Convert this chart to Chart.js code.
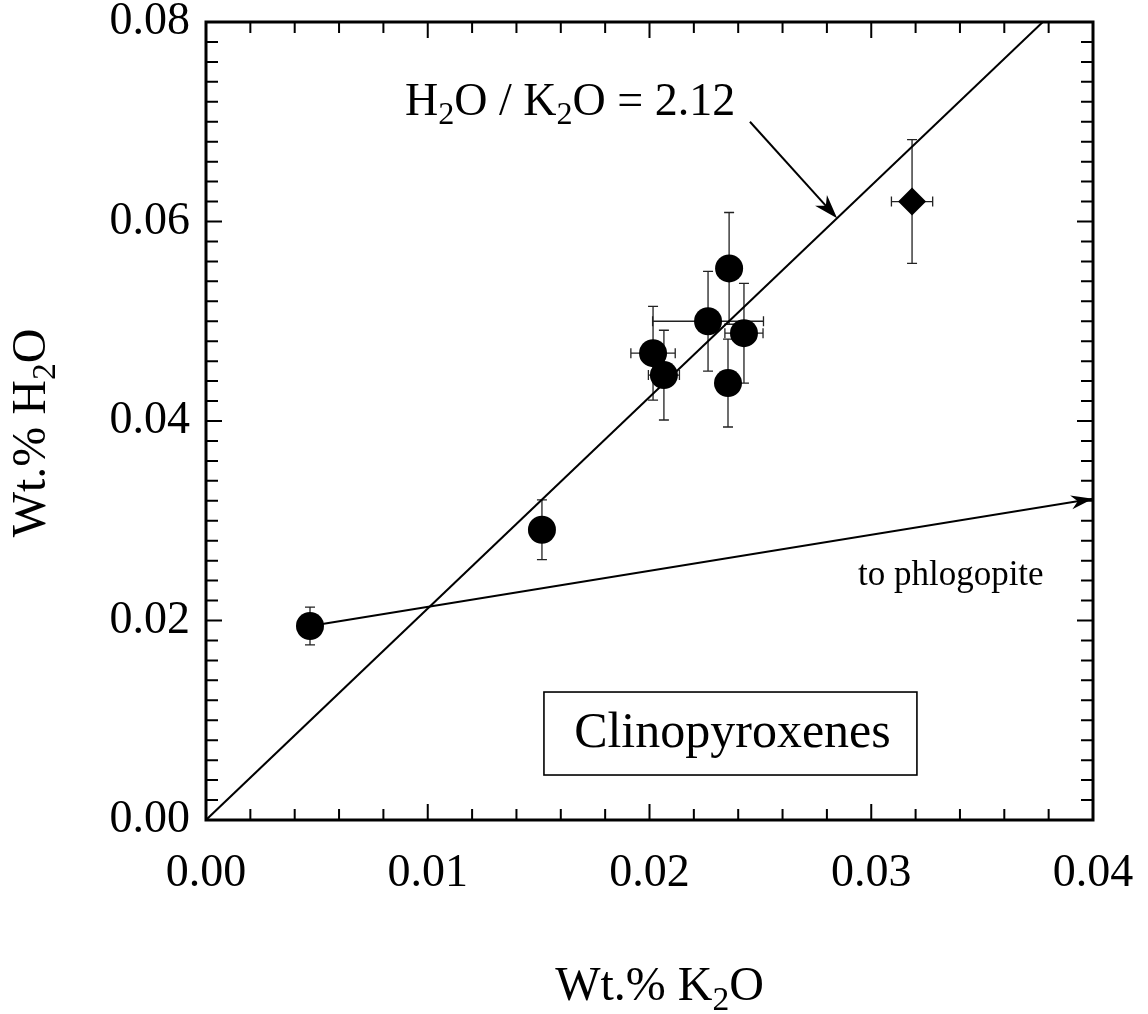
<!DOCTYPE html>
<html>
<head>
<meta charset="utf-8">
<script src="https://cdn.jsdelivr.net/npm/chart.js@4/dist/chart.umd.min.js"></script>
<style>
  body { margin: 0; background: #fff; }
  canvas { display: block; }
</style>
</head>
<body>
<canvas id="cpxChart" width="1148" height="1014"></canvas>
<script>
// CLINOPYROXENE ANALYSES (wt.%)
var cpxK2O    = [0.00469, 0.01515, 0.02016, 0.02065, 0.02264, 0.02359, 0.02426, 0.02354];
var cpxH2O    = [0.01945, 0.0291, 0.0468, 0.0446, 0.0500, 0.0553, 0.0488, 0.0438];
var cpxK2OErr = [0, 0, 0.0010, 0.0007, 0.0025, 0, 0.00086, 0];
var cpxH2OErr = [0.0019, 0.0030, 0.0047, 0.0045, 0.0050, 0.0056, 0.0050, 0.0044];

// SINGLE DIAMOND SAMPLE
var diaK2O    = [0.03184];
var diaH2O    = [0.0620];
var diaK2OErr = [0.00093];
var diaH2OErr = [0.0062];

// REFERENCE LINE AND PHLOGOPITE TREND
var h2oK2ORatio   = 2.12;
var phlogTrendEnd = [0.04, 0.0322];

// AXES
var xTicks = [0.00, 0.01, 0.02, 0.03, 0.04];
var yTicks = [0.00, 0.02, 0.04, 0.06, 0.08];
var xMinorStep = 0.002;
var yMinorStep = 0.002;

var serif = '"Liberation Serif", "Times New Roman", serif';

function toPoints(xs, ys) {
    return xs.map(function(x, i) { return { x: x, y: ys[i] }; });
}

// draw text runs where some pieces are subscripts
function drawRich(ctx, parts, x, y, size, align) {
    var subSize = size * 0.7;
    var total = 0;
    parts.forEach(function(p) {
        ctx.font = (p[1] ? subSize : size) + 'px ' + serif;
        total += ctx.measureText(p[0]).width;
    });
    var cx = align === 'center' ? x - total / 2 : x;
    ctx.textAlign = 'left';
    ctx.textBaseline = 'alphabetic';
    parts.forEach(function(p) {
        ctx.font = (p[1] ? subSize : size) + 'px ' + serif;
        ctx.fillText(p[0], cx, p[1] ? y + size * 0.2 : y);
        cx += ctx.measureText(p[0]).width;
    });
}

function arrowHead(ctx, x0, y0, x1, y1, len, half) {
    var a = Math.atan2(y1 - y0, x1 - x0);
    var c = Math.cos(a), s = Math.sin(a);
    ctx.beginPath();
    ctx.moveTo(x1, y1);
    ctx.lineTo(x1 - len * c - half * s, y1 - len * s + half * c);
    ctx.lineTo(x1 - len * 0.7 * c, y1 - len * 0.7 * s);
    ctx.lineTo(x1 - len * c + half * s, y1 - len * s - half * c);
    ctx.closePath();
    ctx.fill();
}

// ERROR BARS
var errorBars = {
    id: 'errorBars',
    beforeDatasetsDraw: function(chart) {
        var ctx = chart.ctx, xs = chart.scales.x, ys = chart.scales.y;
        var sets = [
            [cpxK2O, cpxH2O, cpxK2OErr, cpxH2OErr],
            [diaK2O, diaH2O, diaK2OErr, diaH2OErr]
        ];
        var cap = 5;
        ctx.save();
        ctx.strokeStyle = '#222';
        ctx.lineWidth = 1.3;
        sets.forEach(function(set) {
            set[0].forEach(function(xv, i) {
                var px = xs.getPixelForValue(xv), py = ys.getPixelForValue(set[1][i]);
                var ex = set[2][i], ey = set[3][i];
                ctx.beginPath();
                if (ey) {
                    var t = ys.getPixelForValue(set[1][i] + ey), b = ys.getPixelForValue(set[1][i] - ey);
                    ctx.moveTo(px, t); ctx.lineTo(px, b);
                    ctx.moveTo(px - cap, t); ctx.lineTo(px + cap, t);
                    ctx.moveTo(px - cap, b); ctx.lineTo(px + cap, b);
                }
                if (ex) {
                    var l = xs.getPixelForValue(xv - ex), r = xs.getPixelForValue(xv + ex);
                    ctx.moveTo(l, py); ctx.lineTo(r, py);
                    ctx.moveTo(l, py - cap); ctx.lineTo(l, py + cap);
                    ctx.moveTo(r, py - cap); ctx.lineTo(r, py + cap);
                }
                ctx.stroke();
            });
        });
        ctx.restore();
    }
};

// FRAME, INWARD TICKS, LABELS AND ARROWS
var decorations = {
    id: 'decorations',
    afterDatasetsDraw: function(chart) {
        var ctx = chart.ctx, a = chart.chartArea;
        var xs = chart.scales.x, ys = chart.scales.y;
        ctx.save();
        ctx.strokeStyle = '#000';
        ctx.fillStyle = '#000';

        // minor / major ticks on all four sides
        ctx.lineWidth = 2;
        ctx.beginPath();
        var nx = Math.round((xs.max - xs.min) / xMinorStep);
        for (var i = 1; i < nx; i++) {
            var px = xs.getPixelForValue(xs.min + i * xMinorStep);
            var lx = i % 5 === 0 ? 16 : 11;
            ctx.moveTo(px, a.bottom); ctx.lineTo(px, a.bottom - lx);
            ctx.moveTo(px, a.top); ctx.lineTo(px, a.top + lx);
        }
        var ny = Math.round((ys.max - ys.min) / yMinorStep);
        for (var j = 1; j < ny; j++) {
            var py = ys.getPixelForValue(ys.min + j * yMinorStep);
            var ly = j % 10 === 0 ? 16 : 12;
            ctx.moveTo(a.left, py); ctx.lineTo(a.left + ly, py);
            ctx.moveTo(a.right, py); ctx.lineTo(a.right - ly, py);
        }
        ctx.stroke();

        ctx.lineWidth = 3;
        ctx.strokeRect(a.left, a.top, a.right - a.left, a.bottom - a.top);

        // arrowhead on the phlogopite trend
        var p0x = xs.getPixelForValue(cpxK2O[0]), p0y = ys.getPixelForValue(cpxH2O[0]);
        var p1x = xs.getPixelForValue(phlogTrendEnd[0]), p1y = ys.getPixelForValue(phlogTrendEnd[1]);
        arrowHead(ctx, p0x, p0y, p1x, p1y, 22, 7);

        // pointer from the ratio label to the line
        var sx = xs.getPixelForValue(0.02453), sy = ys.getPixelForValue(0.0700);
        var ex = xs.getPixelForValue(0.02846), ey = ys.getPixelForValue(0.02846 * h2oK2ORatio);
        ctx.lineWidth = 2;
        ctx.beginPath();
        ctx.moveTo(sx, sy); ctx.lineTo(ex - 10, ey - 11);
        ctx.stroke();
        arrowHead(ctx, sx, sy, ex, ey, 24, 8);

        // ratio label
        drawRich(ctx, [['H'], ['2', true], ['O / K'], ['2', true], ['O = ' + h2oK2ORatio.toFixed(2)]],
            xs.getPixelForValue(0.00897), ys.getPixelForValue(0.07068), 46, 'left');

        // trend label
        ctx.font = '35px ' + serif;
        ctx.textAlign = 'left';
        ctx.textBaseline = 'alphabetic';
        ctx.fillText('to phlogopite', xs.getPixelForValue(0.0294), ys.getPixelForValue(0.02356));

        // sample group box
        var bl = xs.getPixelForValue(0.01524), br = xs.getPixelForValue(0.03206);
        var bt = ys.getPixelForValue(0.01283), bb = ys.getPixelForValue(0.00451);
        ctx.lineWidth = 1.6;
        ctx.strokeRect(bl, bt, br - bl, bb - bt);
        ctx.font = '50px ' + serif;
        ctx.textAlign = 'center';
        ctx.fillText('Clinopyroxenes', (bl + br) / 2 + 2, ys.getPixelForValue(0.00732));

        // axis titles
        drawRich(ctx, [['Wt.% K'], ['2', true], ['O']], a.left + (a.right - a.left) / 2 + 10, 1000, 48, 'center');
        ctx.translate(45, a.top + (a.bottom - a.top) / 2 + 12);
        ctx.rotate(-Math.PI / 2);
        drawRich(ctx, [['Wt.% H'], ['2', true], ['O']], 0, 0, 48, 'center');
        ctx.restore();
    }
};

var ctx1 = document.getElementById('cpxChart');
var cpxChart = new Chart(ctx1, {
    type: 'scatter',
    plugins: [errorBars, decorations],
    data: {
        datasets: [
            {
                type: 'line',
                label: 'H2O/K2O',
                data: [{ x: 0, y: 0 }, { x: yTicks[yTicks.length - 1] / h2oK2ORatio, y: yTicks[yTicks.length - 1] }],
                borderColor: '#000',
                borderWidth: 2,
                pointRadius: 0,
                fill: false
            },
            {
                type: 'line',
                label: 'to phlogopite',
                data: [{ x: cpxK2O[0], y: cpxH2O[0] }, { x: phlogTrendEnd[0], y: phlogTrendEnd[1] }],
                borderColor: '#000',
                borderWidth: 2,
                pointRadius: 0,
                fill: false
            },
            {
                label: 'Clinopyroxene',
                data: toPoints(cpxK2O, cpxH2O),
                pointStyle: 'circle',
                pointRadius: 14,
                backgroundColor: '#000',
                borderColor: '#000',
                borderWidth: 0
            },
            {
                label: 'Diamond',
                data: toPoints(diaK2O, diaH2O),
                pointStyle: 'rectRot',
                pointRadius: 14,
                backgroundColor: '#000',
                borderColor: '#000',
                borderWidth: 0
            }
        ]
    },
    options: {
        responsive: false,
        animation: false,
        layout: { padding: { top: 22, right: 55, left: 0, bottom: 0 } },
        plugins: {
            legend: { display: false },
            tooltip: { enabled: false }
        },
        scales: {
            x: {
                type: 'linear',
                min: xTicks[0],
                max: xTicks[xTicks.length - 1],
                afterFit: function(scale) {
                    scale.height = 194;
                    scale.paddingLeft = 0;
                    scale.paddingRight = 0;
                },
                afterBuildTicks: function(scale) { scale.ticks = xTicks.map(function(v) { return { value: v }; }); },
                grid: { display: false, drawTicks: false },
                border: { display: false },
                ticks: {
                    padding: 26,
                    color: '#000',
                    font: { family: serif, size: 46 },
                    maxRotation: 0,
                    callback: function(v) { return Number(v).toFixed(2); }
                }
            },
            y: {
                type: 'linear',
                min: yTicks[0],
                max: yTicks[yTicks.length - 1],
                afterFit: function(scale) {
                    scale.width = 206;
                    scale.paddingTop = 0;
                    scale.paddingBottom = 0;
                },
                afterBuildTicks: function(scale) { scale.ticks = yTicks.map(function(v) { return { value: v }; }); },
                grid: { display: false, drawTicks: false },
                border: { display: false },
                ticks: {
                    padding: 16,
                    color: '#000',
                    font: { family: serif, size: 46 },
                    callback: function(v) { return Number(v).toFixed(2); }
                }
            }
        }
    }
});
</script>
</body>
</html>
